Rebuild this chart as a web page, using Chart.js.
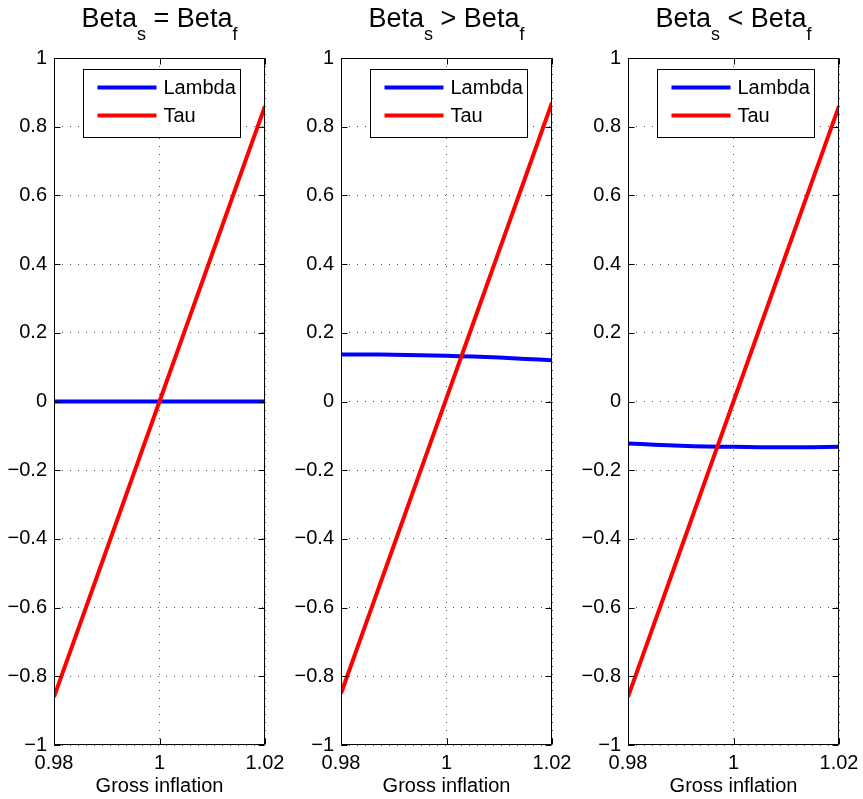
<!DOCTYPE html>
<html>
<head>
<meta charset="utf-8">
<script src="https://cdn.jsdelivr.net/npm/chart.js@4.4.1/dist/chart.umd.min.js"></script>
<style>
  body { margin: 0; background: #fff; font-family: "Liberation Sans", Arial, sans-serif; }
  #wrap { position: relative; width: 863px; height: 799px; }
  .panel { position: absolute; top: 0; width: 287px; height: 799px; }
  .panel canvas { position: absolute; left: 0; top: 0; }
  .ttl { position: absolute; left: 54px; width: 211px; top: 5px; line-height: 27px;
         text-align: center; font-size: 27px; white-space: nowrap; color: #000; }
  .ttl sub { font-size: 18px; vertical-align: -13px; line-height: 0; }
</style>
</head>
<body>
<div id="wrap">
  <div class="panel" style="left:0px">
    <canvas id="c1" width="287" height="799"></canvas>
    <div class="ttl">Beta<sub>s</sub> = Beta<sub>f</sub></div>
  </div>
  <div class="panel" style="left:287px">
    <canvas id="c2" width="287" height="799"></canvas>
    <div class="ttl">Beta<sub>s</sub> &gt; Beta<sub>f</sub></div>
  </div>
  <div class="panel" style="left:574px">
    <canvas id="c3" width="287" height="799"></canvas>
    <div class="ttl">Beta<sub>s</sub> &lt; Beta<sub>f</sub></div>
  </div>
</div>
<script>
// data
var inflation = [0.98, 0.985, 0.99, 0.995, 1.0, 1.005, 1.01, 1.015, 1.02];
var xTicks = [0.98, 1, 1.02];
var yTicks = [-1, -0.8, -0.6, -0.4, -0.2, 0, 0.2, 0.4, 0.6, 0.8, 1];

var lambdaEqual = [0, 0, 0, 0, 0, 0, 0, 0, 0];
var tauEqual = [-0.86, -0.645, -0.43, -0.215, 0, 0.215, 0.43, 0.645, 0.86];

var lambdaHigher = [0.137, 0.137, 0.136, 0.135, 0.133, 0.131, 0.128, 0.124, 0.120];
var tauHigher = [-0.85, -0.635, -0.42, -0.205, 0.01, 0.225, 0.44, 0.655, 0.87];

var lambdaLower = [-0.122, -0.126, -0.129, -0.131, -0.132, -0.133, -0.133, -0.133, -0.132];
var tauLower = [-0.86, -0.645, -0.43, -0.215, 0, 0.215, 0.43, 0.645, 0.86];

var FONT = "'Liberation Sans', Arial, sans-serif";

function pts(ys) {
  return inflation.map(function (x, i) { return { x: x, y: ys[i] }; });
}

function fmt(v) {
  if (v === 0) return "0";
  return (v < 0 ? "\u2212" : "") + String(Math.abs(v));
}

// matlab style box, inward ticks and legend inside the axes
var boxPlugin = {
  id: "boxPlugin",
  afterDatasetsDraw: function (chart) {
    var ctx = chart.ctx;
    var a = chart.chartArea;
    var L = Math.round(a.left) + 0.5, R = Math.round(a.right) - 0.5;
    var T = Math.round(a.top) + 0.5, B = Math.round(a.bottom) - 0.5;
    ctx.save();
    ctx.strokeStyle = "#000";
    ctx.lineWidth = 1;
    ctx.beginPath();
    ctx.rect(L, T, R - L, B - T);
    chart.scales.y.ticks.forEach(function (t) {
      var py = Math.round(chart.scales.y.getPixelForValue(t.value)) + 0.5;
      ctx.moveTo(L, py); ctx.lineTo(L + 6, py);
      ctx.moveTo(R, py); ctx.lineTo(R - 6, py);
    });
    chart.scales.x.ticks.forEach(function (t) {
      var px = Math.round(chart.scales.x.getPixelForValue(t.value)) + 0.5;
      ctx.moveTo(px, T); ctx.lineTo(px, T + 6);
      ctx.moveTo(px, B); ctx.lineTo(px, B - 6);
    });
    ctx.stroke();

    // legend
    var w = 157, h = 68;
    var bx = Math.round(a.right - 25 - w) + 0.5, by = Math.round(a.top + 11) + 0.5;
    ctx.fillStyle = "#fff";
    ctx.fillRect(bx, by, w, h);
    ctx.strokeRect(bx, by, w, h);
    ctx.font = "20px " + FONT;
    ctx.textBaseline = "middle";
    ctx.textAlign = "left";
    chart.data.datasets.forEach(function (ds, i) {
      var ly = by + 18 + i * 28;
      ctx.strokeStyle = ds.borderColor;
      ctx.lineWidth = 4;
      ctx.beginPath();
      ctx.moveTo(bx + 14, ly);
      ctx.lineTo(bx + 73, ly);
      ctx.stroke();
      ctx.fillStyle = "#000";
      ctx.fillText(ds.label, bx + 80, ly + 1);
    });
    ctx.restore();
  }
};

function makeChart(id, lambda, tau) {
  return new Chart(document.getElementById(id), {
    type: "line",
    data: {
      datasets: [
        { label: "Lambda", data: pts(lambda), borderColor: "#0000ff", borderWidth: 4,
          pointRadius: 0, tension: 0.3, order: 1 },
        { label: "Tau", data: pts(tau), borderColor: "#ff0000", borderWidth: 4,
          pointRadius: 0, tension: 0, order: 0 }
      ]
    },
    options: {
      responsive: false,
      animation: false,
      devicePixelRatio: 1,
      layout: { padding: { top: 58, right: 22, left: 0, bottom: 0 } },
      plugins: { legend: { display: false }, tooltip: { enabled: false } },
      scales: {
        x: {
          type: "linear",
          min: 0.98,
          max: 1.02,
          afterBuildTicks: function (s) { s.ticks = xTicks.map(function (v) { return { value: v }; }); },
          afterFit: function (s) { s.height = 54; s.paddingLeft = 0; s.paddingRight = 0; },
          ticks: { font: { size: 20, family: FONT }, color: "#000", padding: 6, maxRotation: 0,
                   callback: function (v) { return String(v); } },
          grid: { color: "#555", lineWidth: 1, drawTicks: false },
          border: { display: false, dash: [1, 7] },
          title: { display: true, text: "Gross inflation", color: "#000",
                   font: { size: 20, family: FONT }, padding: { top: 0, bottom: 1 } }
        },
        y: {
          min: -1,
          max: 1,
          afterBuildTicks: function (s) { s.ticks = yTicks.map(function (v) { return { value: v }; }); },
          afterFit: function (s) { s.width = 54; },
          ticks: { font: { size: 20, family: FONT }, color: "#000", padding: 7,
                   callback: function (v) { return fmt(v); } },
          grid: { color: "#555", lineWidth: 1, drawTicks: false },
          border: { display: false, dash: [1, 7] }
        }
      }
    },
    plugins: [boxPlugin]
  });
}

makeChart("c1", lambdaEqual, tauEqual);
makeChart("c2", lambdaHigher, tauHigher);
makeChart("c3", lambdaLower, tauLower);
</script>
</body>
</html>
